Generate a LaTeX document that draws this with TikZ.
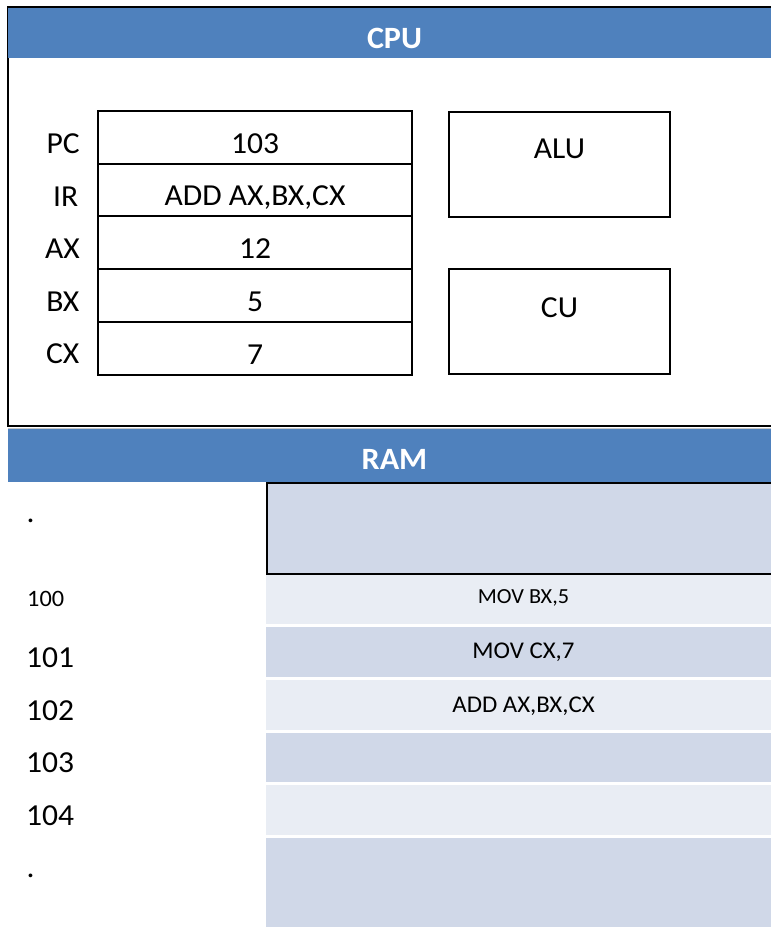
\documentclass[tikz,border=0pt]{standalone}
\usepackage{fontspec}
\setmainfont{Carlito}[FakeStretch=1.035]
\definecolor{hdr}{HTML}{4F81BD}
\definecolor{cdark}{HTML}{D0D8E8}
\definecolor{clight}{HTML}{E9EDF4}
\begin{document}
\begin{tikzpicture}[x=1pt,y=-1pt,
  bigtxt/.style={font=\fontsize{30.5}{36}\selectfont},
  midtxt/.style={font=\fontsize{24}{28}\selectfont},
  smalltxt/.style={font=\fontsize{21.5}{26}\selectfont},
  labtxt/.style={font=\fontsize{23.5}{28}\selectfont},
  frame/.style={draw=black, line width=2pt},
  header/.style={fill=hdr, text=white, inner sep=0pt, minimum width=773pt,
     font=\fontsize{31}{36}\selectfont\bfseries},
  regrow/.style={draw=black, line width=2pt, inner sep=0pt, minimum width=314pt,
     minimum height=53pt, bigtxt, text height=31pt, text depth=0pt},
  unitbox/.style={draw=black, line width=2pt, inner sep=0pt, minimum width=221pt,
     minimum height=105pt, bigtxt},
  regname/.style={anchor=base east, inner sep=0pt, bigtxt},
  addr/.style={anchor=base west, inner sep=0pt, bigtxt},
  cell/.style={inner sep=0pt, minimum width=515pt},
]
\useasboundingbox (0,0) rectangle (771,927);
% CPU frame
\node[frame, anchor=north west, inner sep=0pt, minimum width=790pt, minimum height=419pt] (cpu) at (7,6) {};
\node[header, minimum height=50pt, text height=30pt, text depth=0pt] (cpuhdr) at (394.5,33) {CPU};
% registers
\node[regrow] (pc) at (255,137.5) {103};
\node[regrow, minimum height=52pt] (ir) at (255,190) {ADD AX,BX,CX};
\node[regrow] (ax) at (255,242.5) {12};
\node[regrow] (bx) at (255,295.5) {5};
\node[regrow] (cx) at (255,348.5) {7};
\node[regname] (lpc) at (80,153) {PC};
\node[regname] (lir) at (78.5,206) {IR};
\node[regname] (lax) at (80,258.5) {AX};
\node[regname] (lbx) at (79.5,311) {BX};
\node[regname] (lcx) at (79.5,363.5) {CX};
% ALU / CU
\node[unitbox, text height=20pt, text depth=33pt] (alu) at (559.5,164.5) {ALU};
\node[unitbox, text height=20pt, text depth=29pt] (cu) at (559.5,321.5) {CU};
% shadow line
\draw[gray!45, line width=1pt] (8,428) -- (781,428);
% RAM header
\node[header, minimum height=53pt, text height=27pt, text depth=0pt] (ramhdr) at (394.5,455.5) {RAM};
% RAM cells
\node[cell, fill=cdark, draw=black, line width=2pt, anchor=north west, minimum width=530pt, minimum height=91pt] (c0) at (266,482) {};
\node[cell, fill=clight, minimum height=49pt, smalltxt, text height=14pt, text depth=7pt] (c100) at (523.5,599.5) {MOV BX,5};
\node[cell, fill=cdark, minimum height=50pt, midtxt, text height=15.5pt, text depth=3.5pt] (c101) at (523.5,652) {MOV CX,7};
\node[cell, fill=clight, minimum height=50pt, midtxt, text height=15.5pt, text depth=1.5pt] (c102) at (523.5,705) {ADD AX,BX,CX};
\node[cell, fill=cdark, minimum height=49pt] (c103) at (523.5,757.5) {};
\node[cell, fill=clight, minimum height=50pt] (c104) at (523.5,810) {};
\node[cell, fill=cdark, minimum height=95pt, anchor=north] (c105) at (523.5,838) {};
% addresses
\node[addr] (adot1) at (26.5,522) {.};
\node[addr, labtxt] (a100) at (27,606) {100};
\node[addr] (a101) at (26,667) {101};
\node[addr] (a102) at (26,720) {102};
\node[addr] (a103) at (26,772) {103};
\node[addr] (a104) at (26,825) {104};
\node[addr] (adot2) at (26.5,877) {.};
\end{tikzpicture}
\end{document}
